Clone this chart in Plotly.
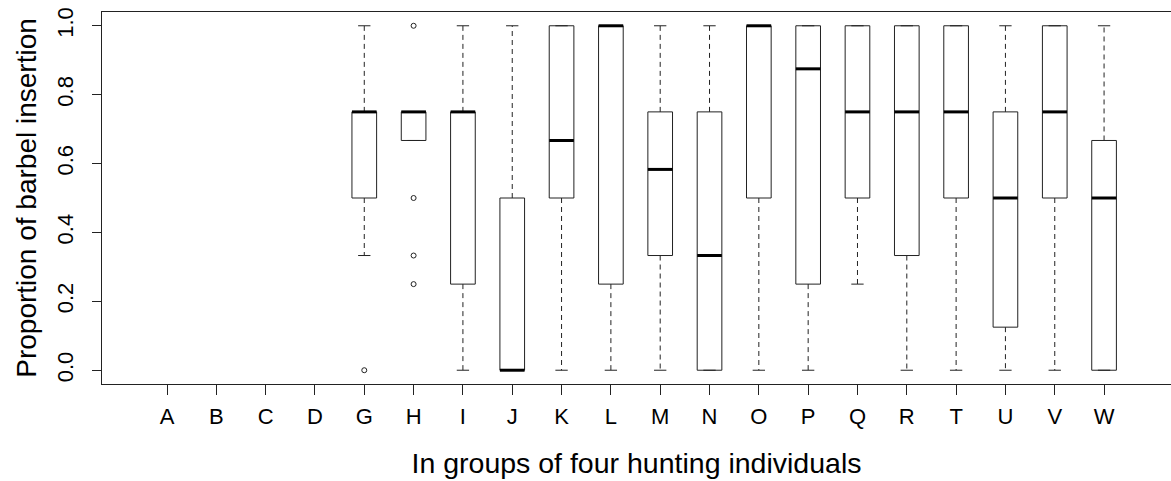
import plotly.graph_objects as go

# Group labels along the x axis (A-D have no observations)
groups = ["A", "B", "C", "D", "G", "H", "I", "J", "K", "L",
          "M", "N", "O", "P", "Q", "R", "T", "U", "V", "W"]

# Five-number summaries per group (None = no data)
lower_whisker = [None, None, None, None, 0.333, 0.667, 0.0, 0.0, 0.0, 0.0,
                 0.0, 0.0, 0.0, 0.0, 0.25, 0.0, 0.0, 0.0, 0.0, 0.0]
q1 = [None, None, None, None, 0.5, 0.667, 0.25, 0.0, 0.5, 0.25,
      0.333, 0.0, 0.5, 0.25, 0.5, 0.333, 0.5, 0.125, 0.5, 0.0]
median = [None, None, None, None, 0.75, 0.75, 0.75, 0.0, 0.667, 1.0,
          0.583, 0.333, 1.0, 0.875, 0.75, 0.75, 0.75, 0.5, 0.75, 0.5]
q3 = [None, None, None, None, 0.75, 0.75, 0.75, 0.5, 1.0, 1.0,
      0.75, 0.75, 1.0, 1.0, 1.0, 1.0, 1.0, 0.75, 1.0, 0.667]
upper_whisker = [None, None, None, None, 1.0, 0.75, 1.0, 1.0, 1.0, 1.0,
                 1.0, 1.0, 1.0, 1.0, 1.0, 1.0, 1.0, 1.0, 1.0, 1.0]

# Points outside the whiskers
outlier_groups = ["G", "H", "H", "H", "H"]
outlier_values = [0.0, 1.0, 0.5, 0.333, 0.25]

y_ticks = [0.0, 0.2, 0.4, 0.6, 0.8, 1.0]
y_tick_labels = ["0.0", "0.2", "0.4", "0.6", "0.8", "1.0"]

HALF_BOX = 0.25      # half box width in category units
HALF_STAPLE = 0.125  # half whisker-cap width
INK = "#222222"
FONT = "Liberation Sans, Arial, sans-serif"

pos = {g: i + 1 for i, g in enumerate(groups)}

box_x, box_y = [], []
med_x, med_y = [], []
wh_x, wh_y = [], []
cap_x, cap_y = [], []

for g, lo, a, m, b, hi in zip(groups, lower_whisker, q1, median, q3, upper_whisker):
    if m is None:
        continue
    x = pos[g]
    # box outline
    box_x += [x - HALF_BOX, x + HALF_BOX, x + HALF_BOX, x - HALF_BOX, x - HALF_BOX, None]
    box_y += [a, a, b, b, a, None]
    # median bar
    med_x += [x - HALF_BOX, x + HALF_BOX, None]
    med_y += [m, m, None]
    # dashed whiskers
    wh_x += [x, x, None, x, x, None]
    wh_y += [b, hi, None, a, lo, None]
    # whisker caps
    cap_x += [x - HALF_STAPLE, x + HALF_STAPLE, None, x - HALF_STAPLE, x + HALF_STAPLE, None]
    cap_y += [hi, hi, None, lo, lo, None]

fig = go.Figure()
fig.add_trace(go.Scatter(x=wh_x, y=wh_y, mode="lines",
                         line=dict(color=INK, width=1, dash="5px,4px"),
                         hoverinfo="skip", showlegend=False))
fig.add_trace(go.Scatter(x=cap_x, y=cap_y, mode="lines",
                         line=dict(color=INK, width=1),
                         hoverinfo="skip", showlegend=False))
fig.add_trace(go.Scatter(x=box_x, y=box_y, mode="lines",
                         line=dict(color=INK, width=1),
                         hoverinfo="skip", showlegend=False))
fig.add_trace(go.Scatter(x=med_x, y=med_y, mode="lines",
                         line=dict(color="black", width=3),
                         hoverinfo="skip", showlegend=False))
fig.add_trace(go.Scatter(x=[pos[g] for g in outlier_groups], y=outlier_values,
                         mode="markers",
                         marker=dict(symbol="circle-open", size=5, color=INK,
                                     line=dict(width=1, color=INK)),
                         showlegend=False))

fig.update_layout(
    width=1171, height=481,
    margin=dict(l=102, r=0, t=12, b=97),
    paper_bgcolor="white", plot_bgcolor="white",
    font=dict(family=FONT, color="black"),
    showlegend=False,
)
fig.update_xaxes(
    range=[-0.318, 21.357],
    tickmode="array", tickvals=list(range(1, len(groups) + 1)), ticktext=groups,
    ticks="outside", ticklen=10, tickwidth=1, tickcolor=INK,
    ticklabelstandoff=3,
    tickfont=dict(size=22, family=FONT),
    showgrid=False, zeroline=False,
    showline=True, linecolor=INK, linewidth=1, mirror=True,
    title=dict(text="In groups of four hunting individuals",
               font=dict(size=28.5, family=FONT), standoff=24),
)
fig.update_yaxes(
    range=[-0.04, 1.04],
    tickmode="array", tickvals=y_ticks, ticktext=y_tick_labels,
    ticks="outside", ticklen=9, tickwidth=1, tickcolor=INK,
    tickangle=-90, ticklabelstandoff=10,
    tickfont=dict(size=22, family=FONT),
    showgrid=False, zeroline=False,
    showline=True, linecolor=INK, linewidth=1, mirror=False,
    title=dict(text="Proportion of barbel insertion",
               font=dict(size=28, family=FONT), standoff=8),
)

fig.write_html("out.html")
